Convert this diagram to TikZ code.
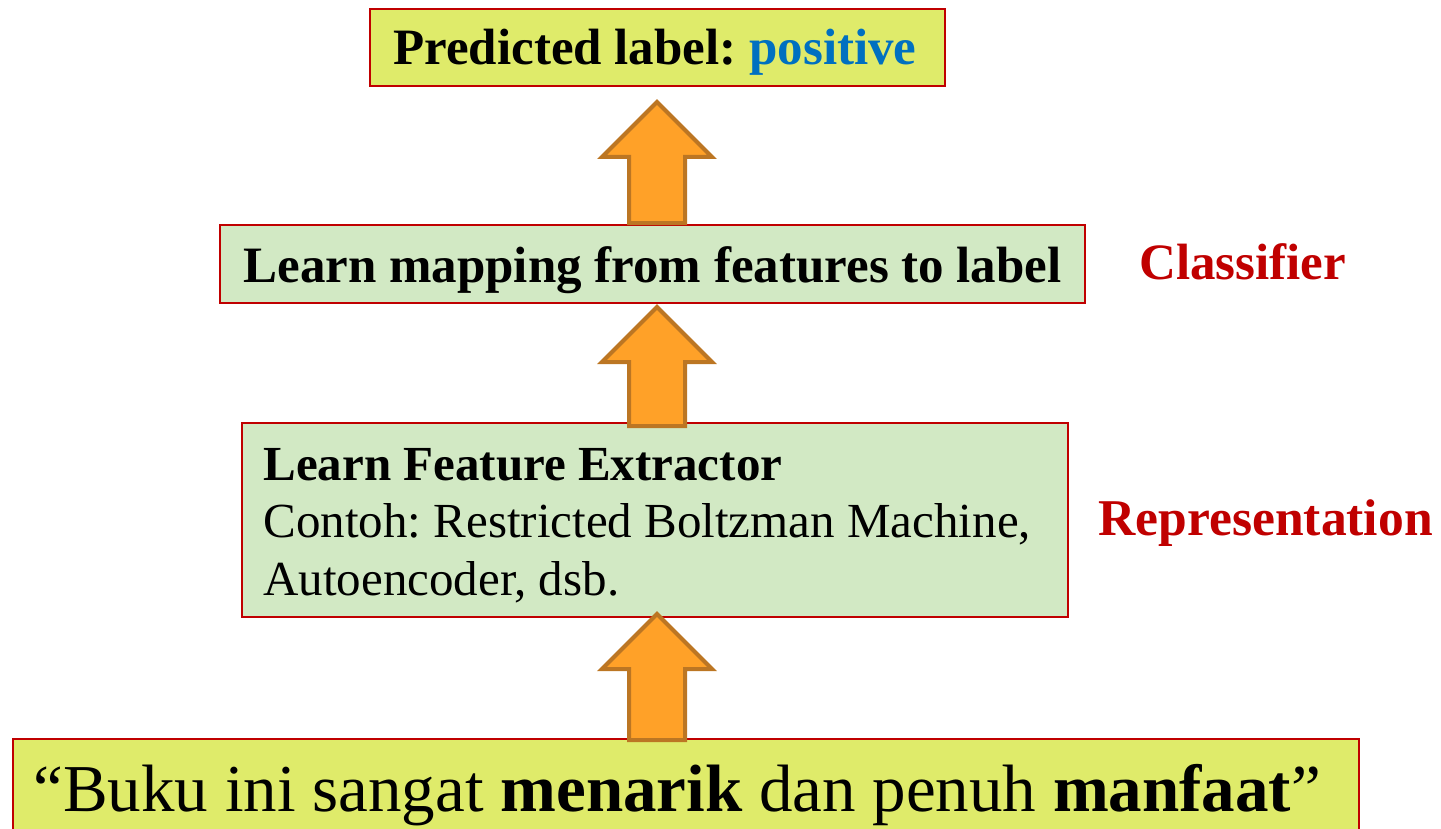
\documentclass[tikz,border=0pt]{standalone}
\usepackage{fontspec}
\setmainfont{Liberation Serif}
\usetikzlibrary{calc}
\frenchspacing

\definecolor{boxred}{RGB}{192,0,0}
\definecolor{limefill}{RGB}{223,235,106}
\definecolor{sagefill}{RGB}{210,233,196}
\definecolor{liftfill}{RGB}{255,161,40}
\definecolor{liftedge}{RGB}{188,118,35}
\definecolor{posblue}{RGB}{0,112,192}

% block arrow pointing up, from a tail coordinate to a tip coordinate
\newcommand\liftarrow[2]{%
  \draw[liftstyle] let \p1=(#1), \p2=(#2) in
    (\x1-14pt,\y1) -- (\x1-14pt,\y2-27.5pt) -- (\x1-27.5pt,\y2-27.5pt) --
    (\x1,\y2) -- (\x1+27.5pt,\y2-27.5pt) -- (\x1+14pt,\y2-27.5pt) --
    (\x1+14pt,\y1) -- cycle;}

\begin{document}
\begin{tikzpicture}[x=0.5pt,y=-0.5pt,
  box/.style={draw=boxred,line width=1pt,inner sep=0pt,rectangle},
  txt/.style={inner sep=0pt,font=\fontsize{25.5}{30}\selectfont\bfseries},
  bodytxt/.style={inner sep=0pt,anchor=base west,font=\fontsize{24.5}{29}\selectfont},
  tag/.style={inner sep=0pt,anchor=base west,text=boxred,font=\fontsize{25.5}{30}\selectfont\bfseries},
  liftstyle/.style={fill=liftfill,draw=liftedge,line width=2pt,line join=miter}]
\useasboundingbox (0,0) rectangle (1441,829);
\clip (0,0) rectangle (1441,829);

% boxes
\node[box,fill=limefill,minimum width=287.5pt,minimum height=38.5pt] (pred) at (657.5,47.5) {};
\node[box,fill=sagefill,minimum width=432.5pt,minimum height=39pt] (map) at (652.5,264) {};
\node[box,fill=sagefill,minimum width=413pt,minimum height=97pt] (feat) at (655,520) {};
\node[box,fill=limefill,minimum width=673pt,minimum height=80pt,anchor=north west] (input) at (12,737.5) {};

% box texts
\node[txt,anchor=base] (predtxt) at (655,65) {Predicted label: \textcolor{posblue}{positive}};
\node[txt,anchor=base] (maptxt) at (652.5,282) {Learn mapping from features to label};
\node[bodytxt,font=\fontsize{24.5}{29}\selectfont\bfseries] (feat1) at (263,480) {Learn Feature Extractor};
\node[bodytxt] (feat2) at (263,537) {Contoh: Restricted Boltzman Machine,};
\node[bodytxt] (feat3) at (263,595) {Autoencoder, dsb.};
\node[inner sep=0pt,anchor=base west,font=\fontsize{33.5}{40}\selectfont] (inputtxt) at (33,811)
  {“Buku ini sangat \textbf{menarik} dan penuh \textbf{manfaat}”};

% side labels
\node[tag] (classifier) at (1139,279) {Classifier};
\node[tag,font=\fontsize{25.8}{30}\selectfont\bfseries] (representation) at (1098,535) {Representation};

% arrows
\coordinate (tail1) at (657,223); \coordinate (tip1) at (657,102);
\coordinate (tail2) at (657,426); \coordinate (tip2) at (657,307);
\coordinate (tail3) at (657,740); \coordinate (tip3) at (657,614);
\liftarrow{tail1}{tip1}
\liftarrow{tail2}{tip2}
\liftarrow{tail3}{tip3}
\end{tikzpicture}
\end{document}
